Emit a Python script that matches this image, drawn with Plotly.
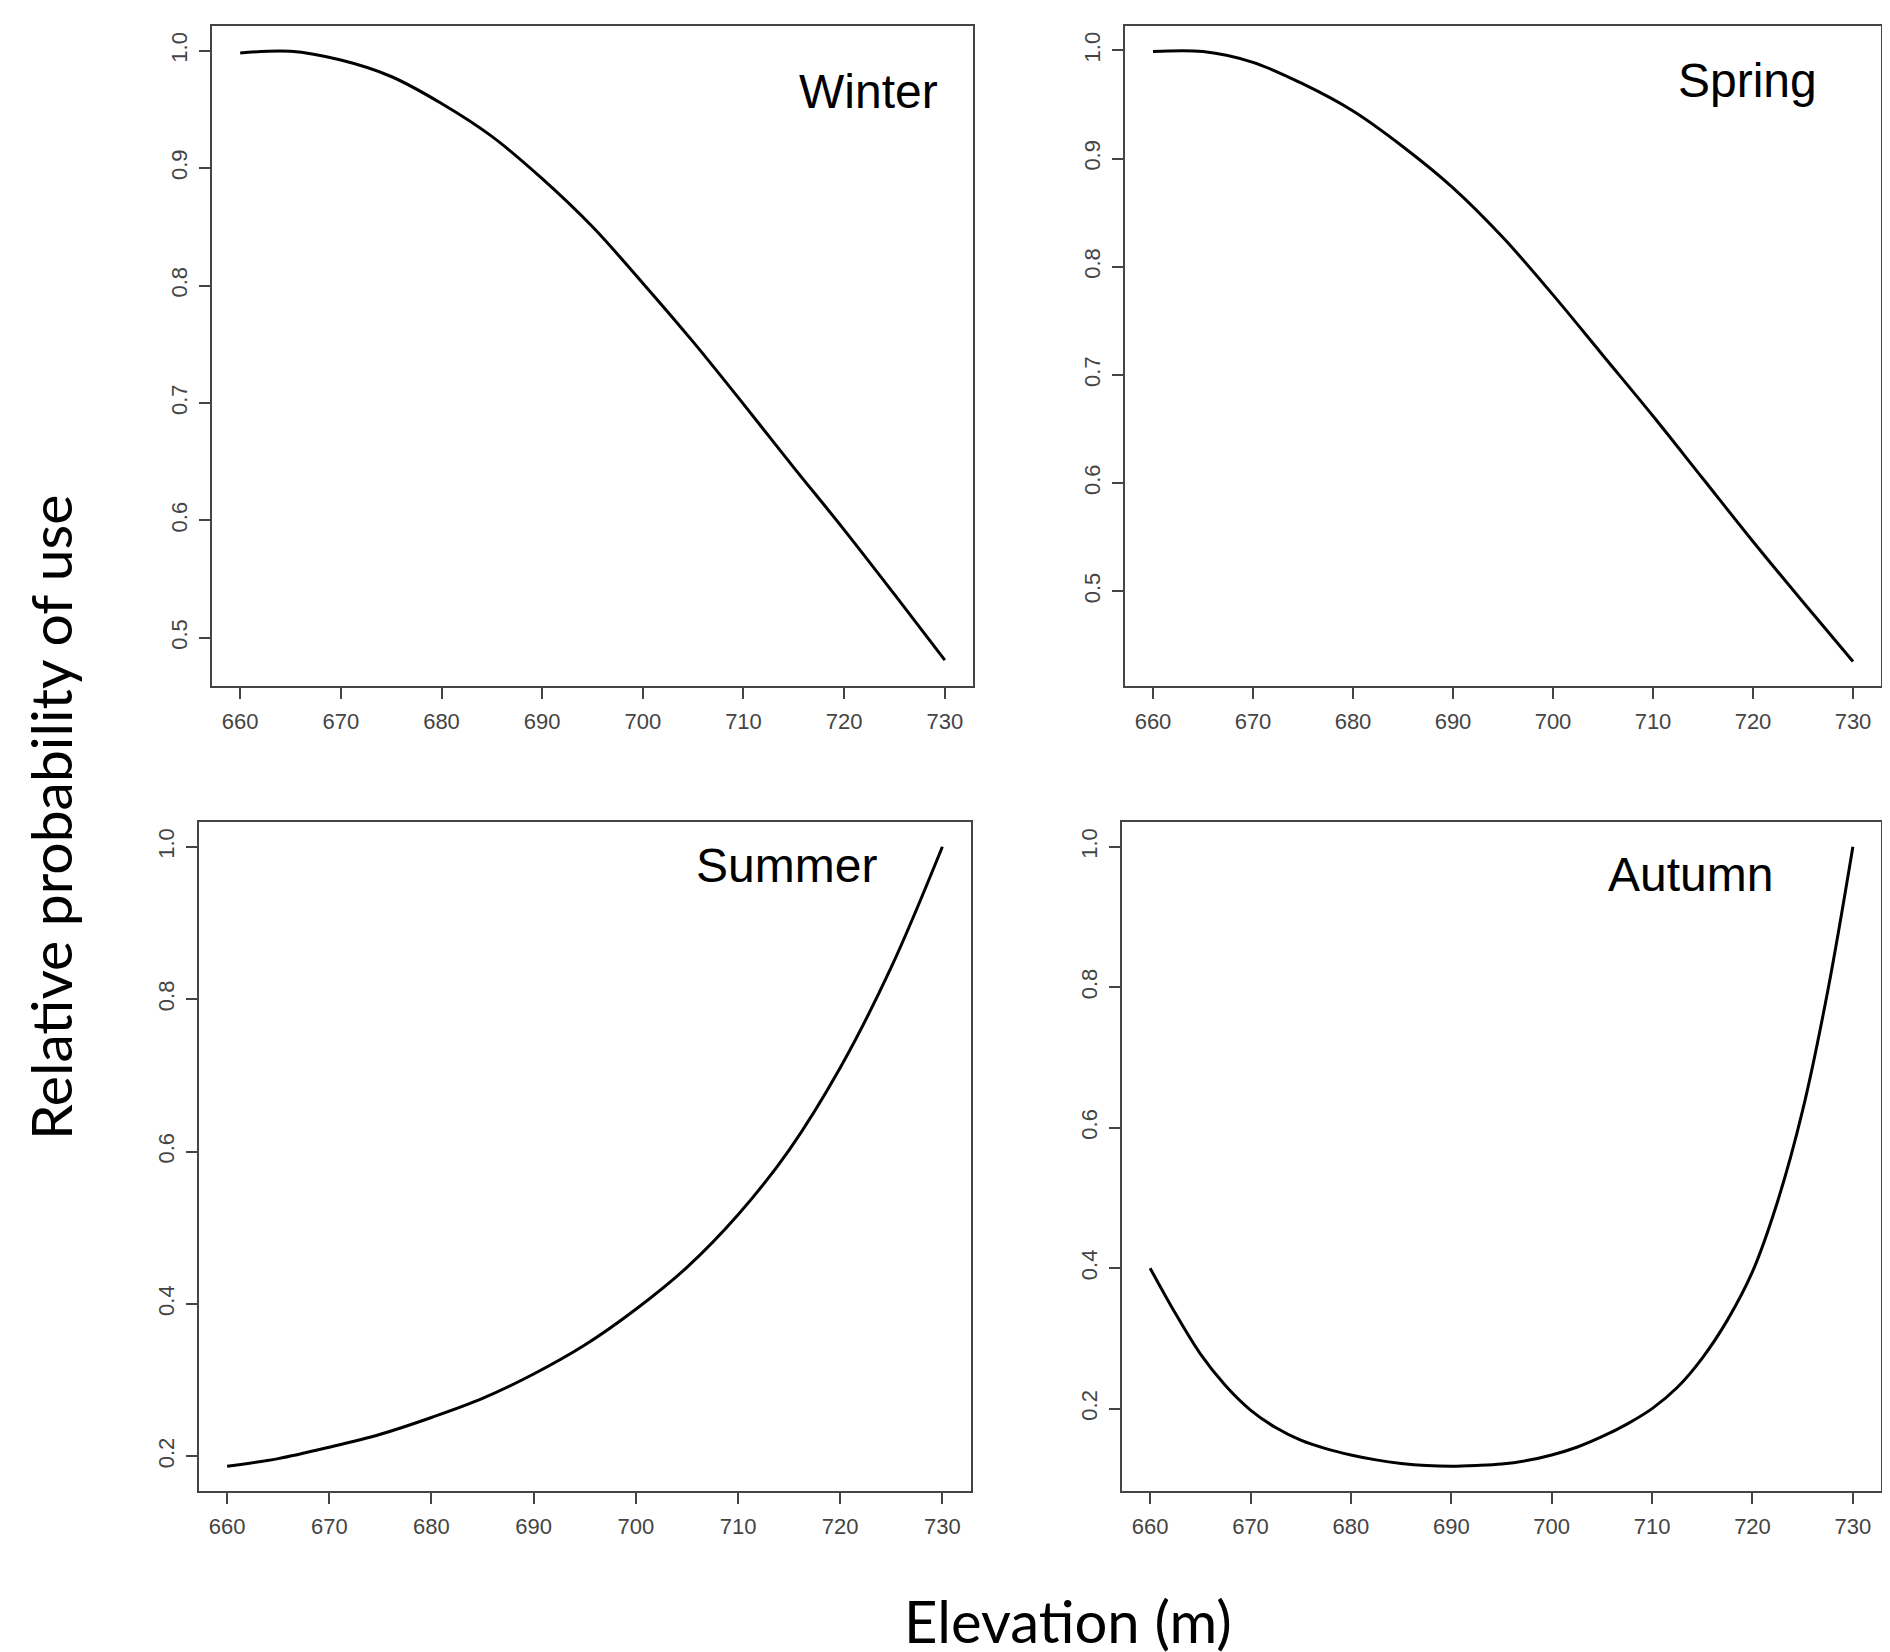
import plotly.graph_objects as go

# ---- data ----
elev = [660, 665, 670, 675, 680, 685, 690, 695, 700, 705, 710, 715, 720, 725, 730]

winter = [0.998, 0.9995, 0.992, 0.978, 0.955, 0.927, 0.891, 0.850, 0.802,
          0.752, 0.699, 0.645, 0.592, 0.537, 0.481]
spring = [0.999, 0.999, 0.989, 0.969, 0.944, 0.911, 0.873, 0.827, 0.774,
          0.718, 0.662, 0.604, 0.546, 0.490, 0.435]
summer = [0.187, 0.197, 0.212, 0.229, 0.251, 0.276, 0.308, 0.346, 0.393,
          0.448, 0.517, 0.602, 0.710, 0.842, 1.0]

elev_autumn = [660, 662.5, 665, 667.5, 670, 672.5, 675, 677.5, 680, 682.5, 685,
               687.5, 690, 692.5, 695, 697.5, 700, 702.5, 705, 707.5, 710,
               712.5, 715, 717.5, 720, 722.5, 725, 727.5, 730]
autumn = [0.400, 0.336, 0.278, 0.233, 0.198, 0.173, 0.155, 0.143, 0.134, 0.127, 0.122,
          0.119, 0.118, 0.119, 0.121, 0.126, 0.134, 0.145, 0.160, 0.178, 0.200,
          0.230, 0.272, 0.326, 0.395, 0.495, 0.625, 0.795, 1.0]

x_ticks = [660, 670, 680, 690, 700, 710, 720, 730]
y_ticks_top = [0.5, 0.6, 0.7, 0.8, 0.9, 1.0]
y_ticks_bottom = [0.2, 0.4, 0.6, 0.8, 1.0]

season_names = ["Winter", "Spring", "Summer", "Autumn"]

W, H = 1890, 1652

# panel boxes in pixels (left, right, top, bottom)
boxes = [
    (204, 965, 18, 678),
    (1117, 1873, 18, 678),
    (190.5, 963, 814, 1483),
    (1114, 1873, 814, 1483),
]
y_ranges = [(0.459, 1.021), (0.4124, 1.0226), (0.1545, 1.0325), (0.0827, 1.0353)]
x_range = (657.2, 732.8)
series_x = [elev, elev, elev, elev_autumn]
series_y = [winter, spring, summer, autumn]
y_tick_sets = [y_ticks_top, y_ticks_top, y_ticks_bottom, y_ticks_bottom]
label_pos = [(0.957, 0.90), (0.918, 0.918), (0.881, 0.935), (0.861, 0.922)]

fig = go.Figure()
tick_font = dict(family="Liberation Sans, Arial, sans-serif", size=22, color="#444")

for i in range(4):
    n = i + 1
    xa = "x" if n == 1 else f"x{n}"
    ya = "y" if n == 1 else f"y{n}"
    fig.add_trace(go.Scatter(
        x=series_x[i], y=series_y[i], mode="lines",
        line=dict(color="black", width=3, shape="spline", smoothing=1.0),
        xaxis=xa, yaxis=ya, showlegend=False, hoverinfo="skip"))
    l, r, t, b = boxes[i]
    axis_common = dict(showgrid=False, zeroline=False, showline=True, mirror=True,
                       linecolor="#444", linewidth=1.5, ticks="outside",
                       ticklen=11, tickwidth=1.5, tickcolor="#444",
                       tickfont=tick_font)
    fig.update_layout({
        f"xaxis{'' if n == 1 else n}": dict(
            domain=[l / W, r / W], range=list(x_range), anchor=ya,
            tickvals=x_ticks, ticktext=[str(v) for v in x_ticks],
            ticklabelstandoff=4, **axis_common),
        f"yaxis{'' if n == 1 else n}": dict(
            domain=[1 - b / H, 1 - t / H], range=list(y_ranges[i]), anchor=xa,
            tickvals=y_tick_sets[i], ticktext=[f"{v:.1f}" for v in y_tick_sets[i]],
            tickangle=-90, ticklabelstandoff=3, **axis_common),
    })
    fig.add_annotation(text=season_names[i], xref=f"{xa} domain", yref=f"{ya} domain",
                       x=label_pos[i][0], y=label_pos[i][1], xanchor="right",
                       yanchor="middle", showarrow=False,
                       font=dict(family="Liberation Sans, Arial, sans-serif", size=48,
                                 color="black"))

fig.add_annotation(text="Relative probability of use", xref="paper", yref="paper",
                   x=42 / W, y=1 - 810 / H, textangle=-90, showarrow=False,
                   xanchor="center", yanchor="middle",
                   font=dict(family="Lato, Calibri, sans-serif", size=57, color="black"))
fig.add_annotation(text="Elevation (m)", xref="paper", yref="paper",
                   x=1060 / W, y=1 - 1612 / H, showarrow=False,
                   xanchor="center", yanchor="middle",
                   font=dict(family="Lato, Calibri, sans-serif", size=58, color="black"))

fig.update_layout(width=W, height=H, margin=dict(l=0, r=0, t=0, b=0),
                  paper_bgcolor="white", plot_bgcolor="white")

fig.write_html("out.html")
